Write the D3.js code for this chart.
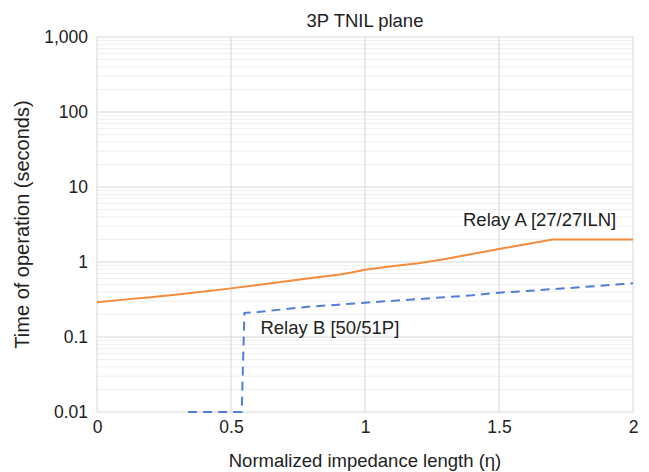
<!DOCTYPE html>
<html>
<head>
<meta charset="utf-8">
<script src="https://cdn.jsdelivr.net/npm/d3@7"></script>
<style>
  body { margin: 0; background: #fff; }
  text { font-family: "Liberation Sans", Arial, sans-serif; fill: #222; }
</style>
</head>
<body>
<div id="chart"></div>
<script>
// data
var relayA_x = [0, 0.1, 0.2, 0.3, 0.4, 0.5, 0.6, 0.7, 0.8, 0.9, 0.95, 1.0, 1.1, 1.2, 1.3, 1.4, 1.5, 1.6, 1.7, 2.0];
var relayA_t = [0.29, 0.315, 0.34, 0.37, 0.405, 0.445, 0.495, 0.55, 0.61, 0.675, 0.725, 0.79, 0.88, 0.96, 1.1, 1.28, 1.49, 1.72, 2.0, 2.0];
var relayB_x = [0.34, 0.54, 0.55, 0.6, 0.7, 0.8, 0.9, 1.0, 1.2, 1.4, 1.5, 1.6, 1.8, 2.0];
var relayB_t = [0.01, 0.01, 0.21, 0.215, 0.235, 0.255, 0.27, 0.287, 0.32, 0.36, 0.39, 0.41, 0.46, 0.52];
var xTicks = [0, 0.5, 1, 1.5, 2];
var yTicks = [0.01, 0.1, 1, 10, 100, 1000];

var W = 649, H = 472;
var margin = {left: 97, right: 16, top: 37, bottom: 60};
var width = W - margin.left - margin.right;
var height = H - margin.top - margin.bottom;

var svg = d3.select("#chart").append("svg")
    .attr("width", W)
    .attr("height", H);

var x = d3.scaleLinear().domain([0, 2]).range([0, width]);
var y = d3.scaleLog().domain([0.01, 1000]).range([height, 0]);

var g = svg.append("g")
    .attr("transform", "translate(" + margin.left + "," + margin.top + ")");

// minor log grid
var minor = [];
yTicks.slice(0, -1).forEach(function(d) {
    for (var k = 2; k <= 9; k++) minor.push(d * k);
});
g.selectAll(".minor").data(minor).enter().append("line")
    .attr("x1", 0).attr("x2", width)
    .attr("y1", function(d) { return y(d); })
    .attr("y2", function(d) { return y(d); })
    .attr("stroke", "#efefef").attr("stroke-width", 1);

g.selectAll(".hmajor").data(yTicks).enter().append("line")
    .attr("x1", 0).attr("x2", width)
    .attr("y1", function(d) { return y(d); })
    .attr("y2", function(d) { return y(d); })
    .attr("stroke", "#d6d6d6").attr("stroke-width", 1);

g.selectAll(".vmajor").data(xTicks).enter().append("line")
    .attr("y1", 0).attr("y2", height)
    .attr("x1", function(d) { return x(d); })
    .attr("x2", function(d) { return x(d); })
    .attr("stroke", "#d6d6d6").attr("stroke-width", 1);

// axes (labels only, grid already drawn)
var fmt = d3.format(",");
g.append("g")
    .call(d3.axisLeft(y).tickValues(yTicks).tickFormat(function(d) { return fmt(d); }).tickSize(0).tickPadding(9))
    .call(function(a) { a.select(".domain").remove(); })
    .selectAll("text")
    .attr("font-size", "17.5px")
    .style("font-family", "Liberation Sans, Arial, sans-serif")
    .attr("fill", "#222");

g.append("g")
    .attr("transform", "translate(0," + height + ")")
    .call(d3.axisBottom(x).tickValues(xTicks).tickFormat(d3.format("")).tickSize(0).tickPadding(9))
    .call(function(a) { a.select(".domain").remove(); })
    .selectAll("text")
    .attr("font-size", "17.5px")
    .style("font-family", "Liberation Sans, Arial, sans-serif")
    .attr("fill", "#222");

var line = d3.line()
    .x(function(d) { return x(d[0]); })
    .y(function(d) { return y(d[1]); });

g.append("path")
    .datum(d3.zip(relayA_x, relayA_t))
    .attr("d", line)
    .attr("fill", "none")
    .attr("stroke", "#f58b3c")
    .attr("stroke-width", 2);

g.append("path")
    .datum(d3.zip(relayB_x, relayB_t))
    .attr("d", line)
    .attr("fill", "none")
    .attr("stroke", "#4f7fd8")
    .attr("stroke-width", 2)
    .attr("stroke-dasharray", "9,6");

// series labels
g.append("text")
    .attr("x", 366).attr("y", y(2) - 13)
    .attr("font-size", "18.5px")
    .text("Relay A [27/27ILN]");

g.append("text")
    .attr("x", x(0.61)).attr("y", y(0.21) + 21)
    .attr("font-size", "18.5px")
    .text("Relay B [50/51P]");

// titles
svg.append("text")
    .attr("x", margin.left + width / 2).attr("y", 27)
    .attr("text-anchor", "middle")
    .attr("font-size", "18.5px")
    .text("3P TNIL plane");

svg.append("text")
    .attr("x", margin.left + width / 2).attr("y", 467)
    .attr("text-anchor", "middle")
    .attr("font-size", "18.5px")
    .text("Normalized impedance length (η)");

svg.append("text")
    .attr("transform", "translate(29," + (margin.top + height / 2) + ") rotate(-90)")
    .attr("text-anchor", "middle")
    .attr("font-size", "20px")
    .text("Time of operation (seconds)");
</script>
</body>
</html>
